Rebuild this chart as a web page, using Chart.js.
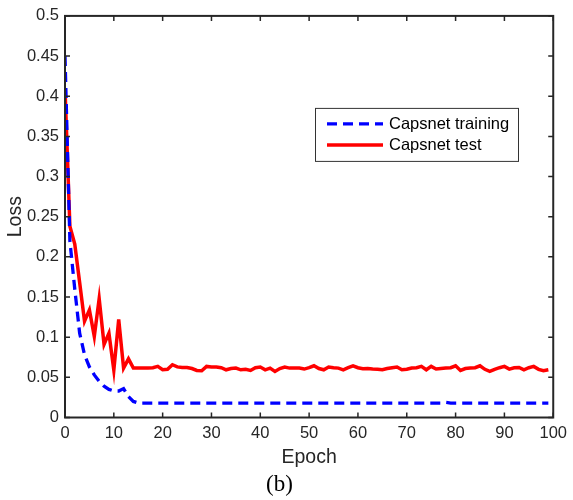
<!DOCTYPE html>
<html>
<head>
<meta charset="utf-8">
<script src="https://cdn.jsdelivr.net/npm/chart.js@4/dist/chart.umd.min.js"></script>
<style>
  html, body { margin: 0; padding: 0; background: #ffffff; }
  #wrap { width: 573px; height: 500px; position: relative; }
</style>
</head>
<body>
<div id="wrap"><canvas id="c" width="573" height="500"></canvas></div>
<script>
const epochs = Array.from({length: 100}, (_, i) => i);
const trainLoss = [
  0.450, 0.220, 0.160, 0.105, 0.078, 0.063, 0.053, 0.045, 0.039, 0.035,
  0.033, 0.033, 0.036, 0.026, 0.020, 0.018, 0.018, 0.018, 0.018, 0.018,
  0.018, 0.018, 0.018, 0.018, 0.018, 0.018, 0.018, 0.018, 0.018, 0.018,
  0.018, 0.018, 0.018, 0.018, 0.018, 0.018, 0.018, 0.018, 0.018, 0.018,
  0.018, 0.018, 0.018, 0.018, 0.018, 0.018, 0.018, 0.018, 0.018, 0.018,
  0.018, 0.018, 0.018, 0.018, 0.018, 0.018, 0.018, 0.018, 0.018, 0.018,
  0.018, 0.018, 0.018, 0.018, 0.018, 0.018, 0.018, 0.018, 0.018, 0.018,
  0.018, 0.018, 0.018, 0.018, 0.018, 0.018, 0.018, 0.018, 0.0188, 0.018,
  0.018, 0.018, 0.018, 0.018, 0.018, 0.018, 0.018, 0.018, 0.018, 0.018,
  0.018, 0.018, 0.018, 0.018, 0.018, 0.018, 0.018, 0.018, 0.018, 0.018
];
const testLoss = [
  0.410, 0.238, 0.216, 0.168, 0.120, 0.134, 0.101, 0.148, 0.091, 0.105,
  0.059, 0.122, 0.0615, 0.073, 0.0615, 0.0615, 0.0615, 0.0615, 0.062, 0.0636,
  0.0594, 0.060, 0.0657, 0.063, 0.0623, 0.0623, 0.061, 0.0586, 0.0582, 0.0636,
  0.063, 0.0628, 0.062, 0.0594, 0.061, 0.0615, 0.0594, 0.060, 0.0586, 0.062,
  0.0628, 0.0594, 0.0615, 0.0574, 0.061, 0.0628, 0.0615, 0.0615, 0.0615, 0.0603,
  0.062, 0.0644, 0.061, 0.0594, 0.0628, 0.062, 0.0615, 0.0594, 0.062, 0.0644,
  0.062, 0.0607, 0.061, 0.0603, 0.060, 0.0594, 0.061, 0.062, 0.0628, 0.0594,
  0.060, 0.0615, 0.062, 0.0636, 0.0594, 0.0636, 0.0603, 0.061, 0.0615, 0.062,
  0.0644, 0.0586, 0.061, 0.0615, 0.062, 0.0644, 0.060, 0.0574, 0.060, 0.062,
  0.0636, 0.0603, 0.062, 0.0623, 0.0594, 0.062, 0.0636, 0.060, 0.0582, 0.0594
];
const xTicks = [0, 10, 20, 30, 40, 50, 60, 70, 80, 90, 100];
const yTicks = [0, 0.05, 0.1, 0.15, 0.2, 0.25, 0.3, 0.35, 0.4, 0.45, 0.5];
const yTickLabels = ['0', '0.05', '0.1', '0.15', '0.2', '0.25', '0.3', '0.35', '0.4', '0.45', '0.5'];
const seriesNames = ['Capsnet training', 'Capsnet test'];

const AXIS = '#262626';
const SANS = '"Liberation Sans", Arial, sans-serif';

const framePlugin = {
  id: 'frame',
  afterDatasetsDraw(chart) {
    const ctx = chart.ctx;
    const a = chart.chartArea;
    const xs = chart.scales.x, ys = chart.scales.y;
    ctx.save();
    ctx.strokeStyle = AXIS;
    ctx.lineWidth = 1.5;
    ctx.beginPath();
    xTicks.forEach(v => {
      const px = xs.getPixelForValue(v);
      ctx.moveTo(px, a.bottom); ctx.lineTo(px, a.bottom - 5);
      ctx.moveTo(px, a.top); ctx.lineTo(px, a.top + 5);
    });
    yTicks.forEach(v => {
      const py = ys.getPixelForValue(v);
      ctx.moveTo(a.left, py); ctx.lineTo(a.left + 5, py);
      ctx.moveTo(a.right, py); ctx.lineTo(a.right - 5, py);
    });
    ctx.stroke();
    ctx.lineWidth = 2;
    ctx.strokeRect(a.left, a.top, a.right - a.left, a.bottom - a.top);

    // legend box
    const bx = a.left + 250, by = a.top + 92, bw = 203, bh = 53;
    ctx.fillStyle = '#ffffff';
    ctx.fillRect(bx, by, bw, bh);
    ctx.lineWidth = 1;
    ctx.strokeStyle = '#333333';
    ctx.strokeRect(bx + 0.5, by + 0.5, bw, bh);
    const ds = chart.data.datasets;
    const rows = [by + 16, by + 37];
    ds.forEach((d, i) => {
      ctx.save();
      ctx.strokeStyle = d.borderColor;
      ctx.lineWidth = d.borderWidth;
      ctx.setLineDash(d.borderDash || []);
      ctx.beginPath();
      ctx.moveTo(bx + 12, rows[i]);
      ctx.lineTo(bx + 68, rows[i]);
      ctx.stroke();
      ctx.restore();
      ctx.fillStyle = '#000000';
      ctx.font = '16.5px ' + SANS;
      ctx.textBaseline = 'middle';
      ctx.textAlign = 'left';
      ctx.fillText(d.label, bx + 74, rows[i] + 1);
    });
    ctx.restore();
  }
};

new Chart(document.getElementById('c'), {
  type: 'line',
  data: {
    labels: epochs,
    datasets: [
      {
        label: seriesNames[0],
        data: epochs.map((e, i) => ({x: e, y: trainLoss[i]})),
        borderColor: '#0000ff',
        borderWidth: 3.3,
        borderDash: [10, 6],
        pointRadius: 0,
        tension: 0,
        fill: false
      },
      {
        label: seriesNames[1],
        data: epochs.map((e, i) => ({x: e, y: testLoss[i]})),
        borderColor: '#ff0000',
        borderWidth: 3.5,
        pointRadius: 0,
        tension: 0,
        fill: false
      }
    ]
  },
  options: {
    responsive: false,
    animation: false,
    devicePixelRatio: 1,
    layout: { padding: { left: 4, right: 18, top: 15, bottom: 1.2 } },
    plugins: {
      legend: { display: false },
      tooltip: { enabled: false },
      title: {
        display: true,
        position: 'bottom',
        text: '(b)',
        color: '#000000',
        font: { family: '"Liberation Serif", "Times New Roman", serif', size: 23, weight: 'normal' },
        padding: { top: 1.5, bottom: 0 }
      }
    },
    scales: {
      x: {
        type: 'linear',
        min: 0, max: 100,
        afterBuildTicks(s) { s.ticks = xTicks.map(v => ({value: v})); },
        afterFit(s) { s.height = 52.2; },
        grid: { display: false, drawTicks: false },
        border: { display: false },
        ticks: {
          color: AXIS,
          padding: 6,
          maxRotation: 0,
          font: { family: SANS, size: 16.5 },
          callback: (v) => String(v)
        },
        title: {
          display: true,
          text: 'Epoch',
          color: AXIS,
          font: { family: SANS, size: 19.5 },
          padding: { top: 0, bottom: 0 }
        }
      },
      y: {
        type: 'linear',
        min: 0, max: 0.5,
        afterBuildTicks(s) { s.ticks = yTicks.map(v => ({value: v})); },
        afterFit(s) { s.width = 61; },
        grid: { display: false, drawTicks: false },
        border: { display: false },
        ticks: {
          color: AXIS,
          padding: 6,
          font: { family: SANS, size: 16.5 },
          callback: (v, i) => yTickLabels[i]
        },
        title: {
          display: true,
          text: 'Loss',
          color: AXIS,
          font: { family: SANS, size: 19.5 },
          padding: { top: 0, bottom: 0 }
        }
      }
    }
  },
  plugins: [framePlugin]
});
</script>
</body>
</html>
